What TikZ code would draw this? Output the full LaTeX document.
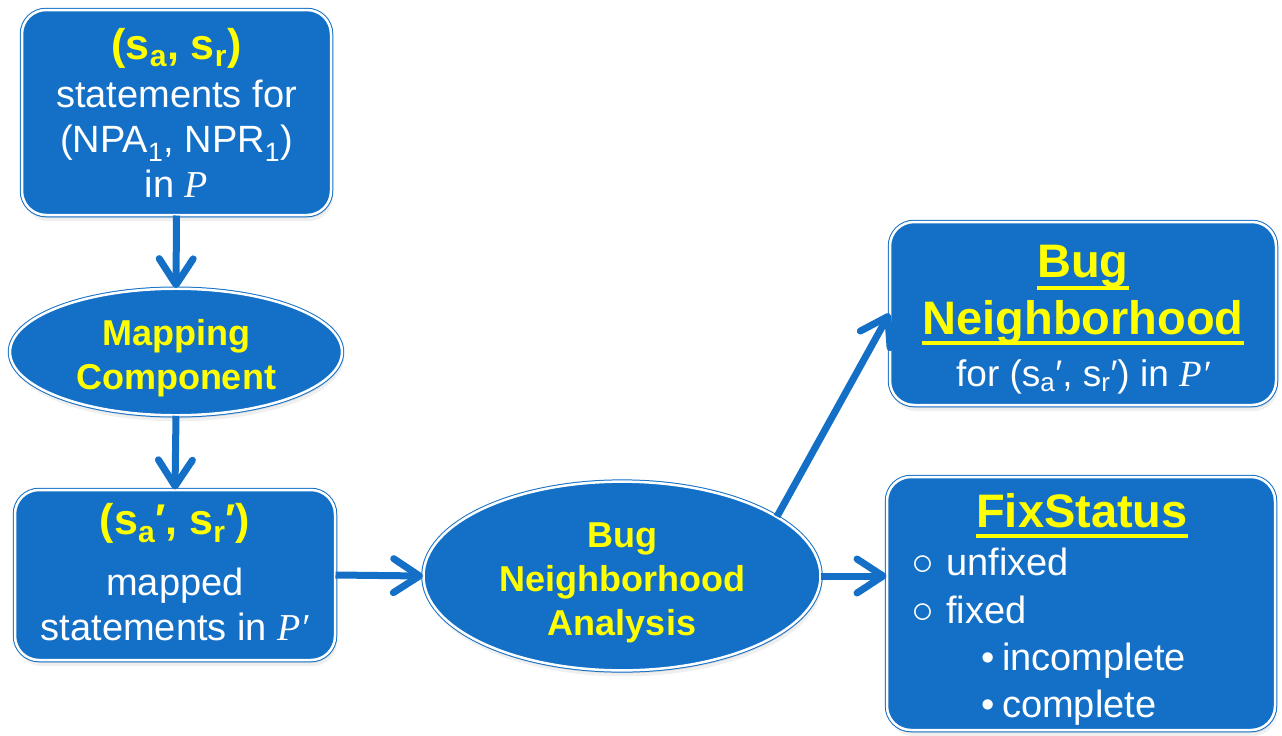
\documentclass[tikz,border=0pt]{standalone}
\usepackage{fontspec}
\setmainfont{Liberation Sans}
\newfontfamily\serifit{Liberation Serif}
\usetikzlibrary{arrows.meta,shapes.geometric,shadows}

\definecolor{boxblue}{HTML}{1370C6}
\definecolor{hiyellow}{HTML}{FFFF00}

% program names set in serif italic
\newcommand{\progP}{{\serifit\itshape P}}
\newcommand{\progPp}{{\serifit\itshape P′}}

\tikzset{
  panel/.style={fill=boxblue, draw=boxblue, line width=1pt,
    double=white, double distance=2.5pt, text=white, align=center,
    inner sep=0pt,
    drop shadow={opacity=.12, shadow xshift=2pt, shadow yshift=-6pt},
    drop shadow={opacity=.18, shadow xshift=1pt, shadow yshift=-3pt}},
  card/.style={panel, rectangle, rounded corners=24pt},
  oval/.style={panel, ellipse},
  flow/.style={draw=boxblue, line width=7pt,
    -{Straight Barb[length=26pt,width=34pt,round]}},
  head/.style={text=hiyellow, font=\bfseries\fontsize{47}{56}\selectfont, inner sep=0pt},
  body/.style={text=white, font=\fontsize{38}{46}\selectfont, inner sep=0pt},
  underbar/.style={draw=hiyellow, line width=4pt},
}

\begin{document}
\begin{tikzpicture}[x=1pt, y=-1pt]
  \useasboundingbox (0,0) rectangle (1282,736);

  % source statements
  \node[card, minimum width=309pt, minimum height=205pt,
        font=\fontsize{38}{45}\selectfont] (src) at (176.5,112.5)
    {{\bfseries\color{hiyellow}\fontsize{43}{45}\selectfont (s\textsubscript{a}, s\textsubscript{r})}\\[3pt]
     statements for\\
     (NPA\textsubscript{1}, NPR\textsubscript{1})\\
     in \progP};

  % mapping step
  \node[oval, minimum width=332pt, minimum height=122pt, text=hiyellow,
        font=\bfseries\fontsize{36}{44}\selectfont] (map) at (176,352)
    {\rule{0pt}{38pt}Mapping\\Component};

  % mapped statements
  \node[card, minimum width=320pt, minimum height=170pt,
        font=\fontsize{38}{45}\selectfont] (mapped) at (175,575)
    {{\bfseries\color{hiyellow}\fontsize{43}{45}\selectfont (s\textsubscript{a}′, s\textsubscript{r}′)}\\[16pt]
     mapped\\
     statements in \progPp\rule[-6pt]{0pt}{6pt}};

  % analysis step
  \node[oval, minimum width=397pt, minimum height=154pt, text=hiyellow,
        font=\bfseries\fontsize{36}{44}\selectfont] (bna) at (622,576)
    {\rule{0pt}{38pt}Bug\\Neighborhood\\Analysis};

  % result: bug neighborhood
  \node[card, minimum width=386pt, minimum height=183pt] (nbhd) at (1083,313.5) {};
  \node[head, anchor=base] (nbhdA) at (1083,277) {Bug};
  \node[head, anchor=base] (nbhdB) at (1083,334) {Neighborhood};
  \node[body, font=\fontsize{37}{44}\selectfont, anchor=base] (nbhdC) at (1083,386)
    {for (s\textsubscript{a}′, s\textsubscript{r}′) in \progPp};
  \draw[underbar] ([yshift=-10.5pt]nbhdA.base west) -- ([yshift=-10.5pt]nbhdA.base east);
  \draw[underbar] ([yshift=-9pt]nbhdB.base west) -- ([yshift=-9pt]nbhdB.base east);

  % result: fix status
  \node[card, minimum width=388pt, minimum height=253pt] (fix) at (1081,603.5) {};
  \node[head, anchor=base] (fixT) at (1082,527) {FixStatus};
  \draw[underbar] ([yshift=-9pt]fixT.base west) -- ([yshift=-9pt]fixT.base east);
  \node[body, anchor=base west] (fixU) at (911,575) {\makebox[35pt][l]{○}unfixed};
  \node[body, anchor=base west] (fixF) at (911,623) {\makebox[35pt][l]{○}fixed};
  \node[body, anchor=base west] (fixI) at (981,670) {\makebox[21pt][l]{•}incomplete};
  \node[body, anchor=base west] (fixC) at (981,717) {\makebox[21pt][l]{•}complete};

  % connectors
  \draw[flow] (src.south) -- (map.north);
  \draw[flow] (map.south) -- (mapped.north);
  \draw[flow] (mapped.east) -- (bna.west);
  \draw[flow] (bna.21.5) -- (nbhd.west);
  \draw[flow] (bna.east) -- (bna.east -| fix.west);
\end{tikzpicture}
\end{document}
